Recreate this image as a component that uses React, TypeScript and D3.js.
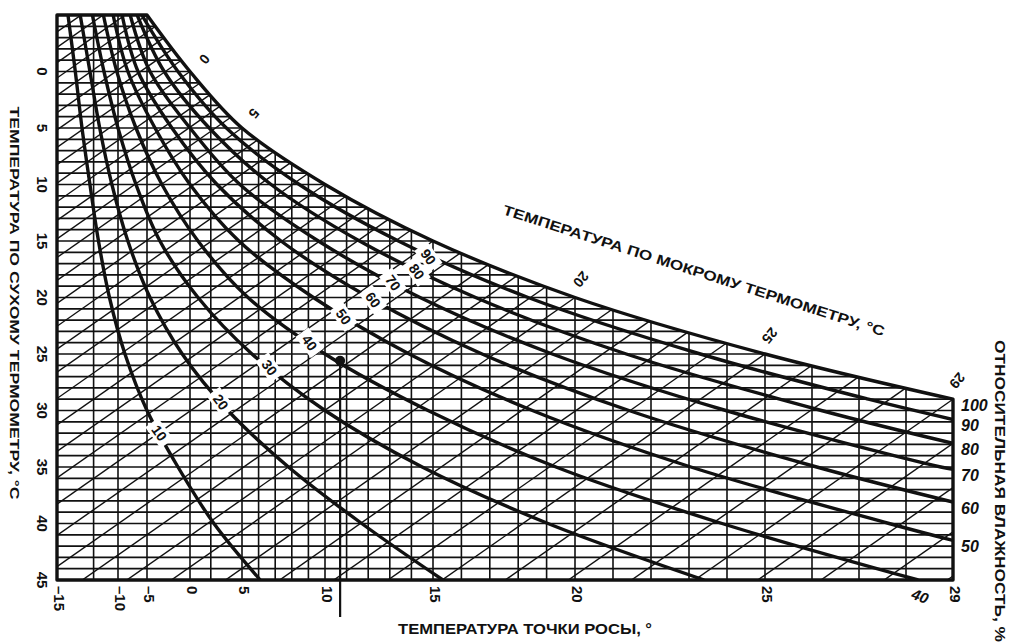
import { useMemo } from 'react'
import * as d3 from 'd3'

const WIDTH = 1012
const HEIGHT = 644

// dew point axis (bottom), labelled values
const dewTicks = [-15, -10, -5, 0, 5, 10, 15, 20, 25, 29]
// vertical grid lines, dew point °C
const dewGrid = [-12, -10, -5, 0, 2, 5, 6, 7, 8, 9, 10, 11, 12, 13, 14, 15, 16, 17, 18, 19, 20, 21, 22, 23, 24, 25, 26, 27, 28]
// dry bulb axis (left)
const dryTicks = [0, 5, 10, 15, 20, 25, 30, 35, 40, 45]
const dryGrid = d3.range(-5, 46)
// saturation curve knots (dry bulb = dew point)
const satKnots = [-5, 0, 5, 10, 15, 20, 25, 29]
// wet bulb lines, °C
const wetBulb = d3.range(-9, 46)
const wetBulbLabels = [0, 5, 20, 25, 29]

// relative humidity curves: [dry bulb, dew point]
const rh10 = [[-5, -14.1], [0, -13.5], [5, -12.95], [10, -12.3], [15, -11.6], [20, -10.7], [25, -8.8], [30, -5], [35, -1.4], [40, 2.3], [45, 6.1]]
const rh20 = [[-5, -13.1], [0, -12.3], [5, -11.5], [10, -10.5], [15, -8.3], [20, -4.65], [25, -0.9], [30, 3.65], [35, 7.8], [40, 11.7], [45, 15.35]]
const rh30 = [[-5, -12.1], [0, -11.15], [5, -10], [10, -6.9], [15, -3.5], [20, 0.77], [25, 5.6], [30, 10], [35, 14.5], [40, 19.05], [45, 23.4]]
const rh40 = [[-5, -11.2], [0, -10.1], [5, -6.9], [10, -3.26], [15, 0.77], [20, 5.36], [25, 10], [30, 14.77], [35, 19.33], [40, 23.87], [45, 28.26]]
const rh50 = [[-5, -10.4], [0, -8.3], [5, -4.07], [10, 0], [15, 4.7], [20, 9.3], [25, 13.9], [30, 18.5], [35, 23.05], [40, 27.64], [41.5, 29]]
const rh60 = [[-5, -9.3], [0, -6.55], [5, -2.1], [10, 2.6], [15, 7.35], [20, 12.04], [25, 16.73], [30, 21.42], [35, 26.1], [38.1, 29]]
const rh70 = [[-5, -7.9], [0, -4.65], [5, 0], [10, 4.8], [15, 9.6], [20, 14.4], [25, 19.2], [30, 23.97], [35, 28.74], [35.2, 29]]
const rh80 = [[-5, -6.7], [0, -3.0], [5, 1.85], [10, 6.75], [15, 11.6], [20, 16.5], [25, 21.35], [30, 26.2], [32.9, 29]]
const rh90 = [[-5, -5.9], [0, -1.4], [5, 3.5], [10, 8.45], [15, 13.4], [20, 18.35], [25, 23.3], [29, 27.2], [30.8, 29]]

const rhLevels = [10, 20, 30, 40, 50, 60, 70, 80, 90]
const rhCurves = [rh10, rh20, rh30, rh40, rh50, rh60, rh70, rh80, rh90]
// dry bulb where each curve label sits on the white strip
const rhLabelDry = [32, 29.25, 26.2, 24.0, 21.7, 20.2, 18.7, 17.7, 16.4]
// labels on the right edge
const rightLabels = [100, 90, 80, 70, 60, 50]

// example state point
const markerDew = 10.7
const markerDry = 25.6

const FONT = '"Liberation Sans", Arial, sans-serif'
const INK = '#111'

export default function App() {
  const x = useMemo(() => d3.scaleLinear().domain(dewTicks).range([57, 118, 147, 190, 242, 325, 433, 575, 765, 953]), [])
  const y = useMemo(() => d3.scaleLinear().domain([-5, 45]).range([15, 580]), [])

  const line = d3.line<number[]>().x(d => d[0]).y(d => d[1]).curve(d3.curveCatmullRom.alpha(0.5))

  const satPath = line(satKnots.map(t => [x(t), y(t)])) as string
  const x0 = x(-15), x1 = x(29), yTop = y(-5), yBot = y(45)
  const framePath = `${satPath}L${x1},${yBot}L${x0},${yBot}L${x0},${yTop}Z`

  const WB_SLOPE = 0.7

  const curvePaths = rhCurves.map(c => line(c.map(([t, td]) => [x(td), y(t)])) as string)

  const rhLabelPos = rhCurves.map((c, i) => {
    const dewAt = d3.scaleLinear().domain(c.map(d => d[0])).range(c.map(d => d[1]))
    const t = rhLabelDry[i]
    return { px: x(dewAt(t)), py: y(t), text: String(rhLevels[i]) }
  })

  const rightEnds = [29, ...rhCurves.slice(4).map(c => c[c.length - 1][0]).reverse()]

  const wbLabelPos = wetBulbLabels.map(t => {
    const a = Math.max(t - 0.5, -5), b = Math.min(t + 0.5, 29)
    const dx = x(b) - x(a), dy = y(b) - y(a)
    const len = Math.hypot(dx, dy)
    return { px: x(t) + (dy / len) * 19, py: y(t) - (dx / len) * 19, text: String(t) }
  })

  const rh40End = rh40[rh40.length - 1]

  return (
    <svg width={WIDTH} height={HEIGHT} style={{ position: 'absolute', left: 0, top: 0, background: '#fff' }} fontFamily={FONT}>
      <defs>
        <clipPath id="chartClip">
          <path d={framePath} />
        </clipPath>
      </defs>

      <g clipPath="url(#chartClip)">
        {/* dry bulb grid */}
        {dryGrid.map(t => (
          <line key={`h${t}`} x1={x0} x2={x1} y1={y(t)} y2={y(t)} stroke={INK} strokeWidth={1.7} />
        ))}
        {/* dew point grid */}
        {dewGrid.map(d => (
          <line key={`v${d}`} x1={x(d)} x2={x(d)} y1={yTop} y2={yBot} stroke={INK} strokeWidth={1.6} />
        ))}
        {/* wet bulb lines */}
        {wetBulb.map(t => (
          <line key={`w${t}`} x1={x(t)} y1={y(t)} x2={x(t) - 1400} y2={y(t) + 1400 * WB_SLOPE} stroke={INK} strokeWidth={1.4} />
        ))}
        {/* relative humidity */}
        {curvePaths.map((p, i) => (
          <path key={`rh${i}`} d={p} fill="none" stroke={INK} strokeWidth={3.4} />
        ))}
      </g>

      <path d={framePath} fill="none" stroke={INK} strokeWidth={3.4} strokeLinejoin="round" />

      {/* example point */}
      <line x1={x(markerDew)} x2={x(markerDew)} y1={y(markerDry)} y2={617} stroke={INK} strokeWidth={2.2} />
      <circle cx={x(markerDew)} cy={y(markerDry)} r={5} fill={INK} />

      {/* RH labels on white strip */}
      {rhLabelPos.map(l => (
        <g key={`rl${l.text}`} transform={`translate(${l.px},${l.py}) rotate(54)`}>
          <rect x={-13} y={-8} width={26} height={16} fill="#fff" />
          <text textAnchor="middle" dominantBaseline="central" fontSize={14} fontWeight="bold" fill={INK}>{l.text}</text>
        </g>
      ))}

      {/* wet bulb labels along saturation */}
      {wbLabelPos.map(l => (
        <text key={`wl${l.text}`} transform={`translate(${l.px},${l.py}) rotate(130)`} textAnchor="middle" dominantBaseline="central" fontSize={14} fontWeight="bold" fill={INK}>{l.text}</text>
      ))}

      {/* left ticks */}
      {dryTicks.map(t => (
        <text key={`lt${t}`} transform={`translate(42,${y(t)}) rotate(90)`} textAnchor="middle" dominantBaseline="central" fontSize={15} fontWeight="bold" fill={INK}>{t}</text>
      ))}

      {/* bottom ticks */}
      {dewTicks.map(d => (
        <text key={`bt${d}`} transform={`translate(${x(d) + 2},586) rotate(90)`} textAnchor="start" dominantBaseline="central" fontSize={15} fontWeight="bold" fill={INK}>{d < 0 ? `–${-d}` : d}</text>
      ))}

      {/* right RH labels */}
      {rightLabels.map((r, i) => (
        <text key={`rr${r}`} x={961} y={y(rightEnds[i]) + 6} dominantBaseline="central" fontSize={16} fontWeight="bold" fontStyle="italic" fill={INK}>{r}</text>
      ))}
      <text transform={`translate(${x(rh40End[1]) + 2},596) rotate(20)`} textAnchor="middle" dominantBaseline="central" fontSize={15} fontWeight="bold" fontStyle="italic" fill={INK}>40</text>

      {/* titles */}
      <text transform="translate(14,303) rotate(90)" textAnchor="middle" dominantBaseline="central" fontSize={13} fontWeight="bold" textLength={393} lengthAdjust="spacingAndGlyphs" fill={INK}>ТЕМПЕРАТУРА ПО СУХОМУ ТЕРМОМЕТРУ, °С</text>
      <text x={398} y={634} fontSize={15} fontWeight="bold" textLength={254} lengthAdjust="spacingAndGlyphs" fill={INK}>ТЕМПЕРАТУРА ТОЧКИ РОСЫ, °</text>
      <text transform="translate(1000,340) rotate(90)" textAnchor="start" dominantBaseline="central" fontSize={15} fontWeight="bold" textLength={302} lengthAdjust="spacingAndGlyphs" fill={INK}>ОТНОСИТЕЛЬНАЯ ВЛАЖНОСТЬ, %</text>
      <text transform="translate(502,214) rotate(17.8)" fontSize={14} fontWeight="bold" textLength={400} lengthAdjust="spacingAndGlyphs" fill={INK}>ТЕМПЕРАТУРА ПО МОКРОМУ ТЕРМОМЕТРУ, °С</text>
    </svg>
  )
}
